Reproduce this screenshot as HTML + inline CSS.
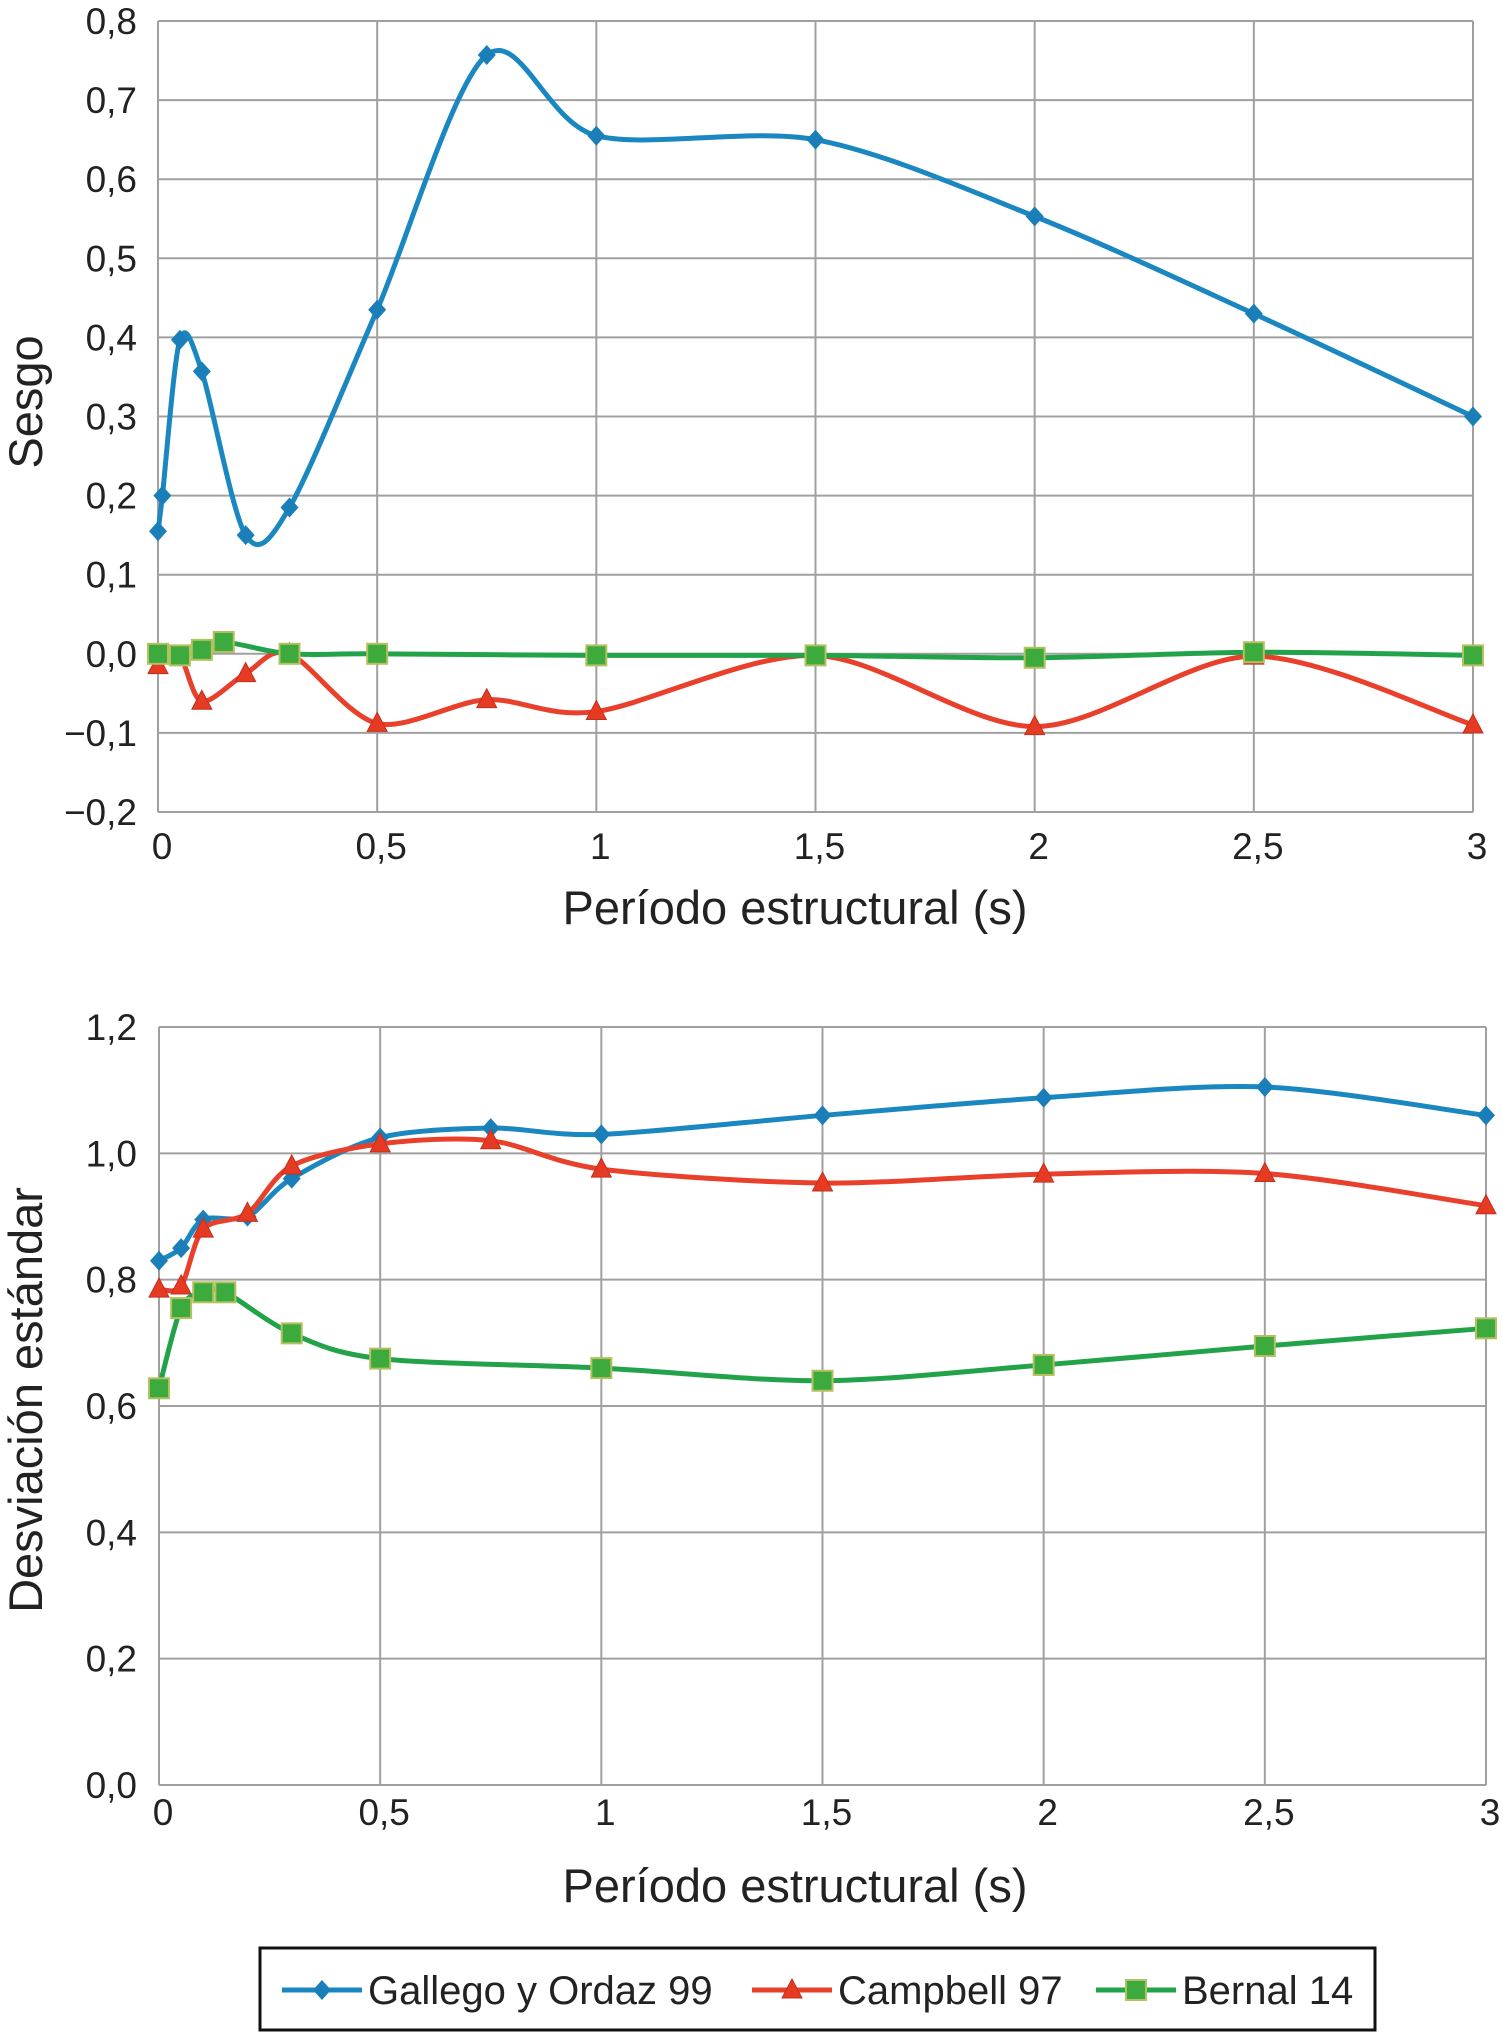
<!DOCTYPE html>
<html><head><meta charset="utf-8"><style>
body{margin:0;background:#fff;}
svg{display:block;font-family:"Liberation Sans",sans-serif;}
</style></head><body>
<svg id="c" width="1503" height="2035"></svg>
<script>
const xTicks=[0,0.5,1,1.5,2,2.5,3];
const xTickLabels=["0","0,5","1","1,5","2","2,5","3"];
const topYTicks=[0.8,0.7,0.6,0.5,0.4,0.3,0.2,0.1,0,-0.1,-0.2];
const topYLabels=["0,8","0,7","0,6","0,5","0,4","0,3","0,2","0,1","0,0","\u22120,1","\u22120,2"];
const botYTicks=[1.2,1.0,0.8,0.6,0.4,0.2,0];
const botYLabels=["1,2","1,0","0,8","0,6","0,4","0,2","0,0"];
const topGallegoX=[0,0.01,0.05,0.1,0.2,0.3,0.5,0.75,1,1.5,2,2.5,3];
const topGallegoY=[0.155,0.2,0.397,0.357,0.15,0.185,0.435,0.757,0.655,0.65,0.553,0.43,0.3];
const topCampbellX=[0,0.05,0.1,0.2,0.3,0.5,0.75,1,1.5,2,2.5,3];
const topCampbellY=[-0.015,-0.004,-0.06,-0.025,0,-0.088,-0.058,-0.073,-0.002,-0.092,-0.003,-0.09];
const topBernalX=[0,0.05,0.1,0.15,0.3,0.5,1,1.5,2,2.5,3];
const topBernalY=[0,-0.002,0.005,0.015,0,0,-0.002,-0.002,-0.005,0.002,-0.002];
const botGallegoX=[0,0.05,0.1,0.2,0.3,0.5,0.75,1,1.5,2,2.5,3];
const botGallegoY=[0.83,0.85,0.895,0.9,0.96,1.025,1.04,1.03,1.06,1.088,1.105,1.06];
const botCampbellX=[0,0.05,0.1,0.2,0.3,0.5,0.75,1,1.5,2,2.5,3];
const botCampbellY=[0.785,0.79,0.88,0.905,0.98,1.015,1.02,0.975,0.953,0.967,0.968,0.917];
const botBernalX=[0,0.05,0.1,0.15,0.3,0.5,1,1.5,2,2.5,3];
const botBernalY=[0.628,0.755,0.78,0.78,0.715,0.675,0.66,0.64,0.665,0.695,0.723];

const NS="http://www.w3.org/2000/svg";
const svg=document.getElementById('c');
function mk(t,a,p){const e=document.createElementNS(NS,t);for(const k in a)e.setAttribute(k,a[k]);(p||svg).appendChild(e);return e;}
const BLUE="#1a87c0",RED="#e8402a",GREEN="#22a34a";

function chart(cfg){
  const g=mk('g',{});
  
  
  const sx=v=>cfg.x0+(v-0)/3*(cfg.x1-cfg.x0);
  const sy=v=>cfg.yTop+(cfg.yMax-v)/(cfg.yMax-cfg.yMin)*(cfg.yBot-cfg.yTop);
  cfg.yt.forEach((v,i)=>{
    const l=mk('line',{x1:sx(0),x2:sx(3),y1:sy(v),y2:sy(v),stroke:"#a0a0a0","stroke-width":2},g);
    
    
    const t=mk('text',{x:137,y:sy(v)+13,"text-anchor":"end","font-size":37,fill:"#222"},g);
    t.textContent=cfg.yl[i];
    
    
  });
  xTicks.forEach((v,i)=>{
    const l=mk('line',{x1:sx(v),x2:sx(v),y1:cfg.yTop,y2:cfg.yBot,stroke:"#a0a0a0","stroke-width":2},g);
    
    
    const t=mk('text',{x:sx(v)+4,y:cfg.xlY,"text-anchor":"middle","font-size":37,fill:"#222"},g);
    t.textContent=xTickLabels[i];
    
    
  });
  const xt=mk('text',{x:795,y:cfg.xtY,"text-anchor":"middle","font-size":47,fill:"#222"},g);
  xt.textContent="Período estructural (s)";
  
  
  const yt=mk('text',{x:0,y:0,"text-anchor":"middle","font-size":47,fill:"#222",transform:`translate(42,${cfg.ytY}) rotate(-90)`},g);
  yt.textContent=cfg.ytitle;
  
  
  cfg.series.forEach(s=>{
    const pts=s.x.map((v,i)=>[sx(v),sy(s.y[i])]);
    let d=`M${pts[0][0]},${pts[0][1]}`;
    for(let i=0;i<pts.length-1;i++){
      const p0=pts[Math.max(i-1,0)],p1=pts[i],p2=pts[i+1],p3=pts[Math.min(i+2,pts.length-1)];
      const k=0.45;
      const c1=[p1[0]+(p2[0]-p0[0])*k/3,p1[1]+(p2[1]-p0[1])*k/3];
      const c2=[p2[0]-(p3[0]-p1[0])*k/3,p2[1]-(p3[1]-p1[1])*k/3];
      d+=` C${c1[0]},${c1[1]} ${c2[0]},${c2[1]} ${p2[0]},${p2[1]}`;
    }
    const p=mk('path',{d:d,fill:"none",stroke:s.c,"stroke-width":5},g);
    
    
    pts.forEach(q=>{
      const m=marker(s.m,q[0],q[1],g);
      
      
    });
  });
}
function marker(type,x,y,g){
  if(type==='d')return mk('path',{d:`M${x},${y-10}L${x+9},${y}L${x},${y+10}L${x-9},${y}Z`,fill:"#1a7fb8"},g);
  if(type==='t')return mk('path',{d:`M${x},${y-11}L${x+10},${y+8}L${x-10},${y+8}Z`,fill:"#e63a22",stroke:"#c03020","stroke-width":1},g);
  return mk('rect',{x:x-10,y:y-10,width:20,height:20,fill:"#3daa3e",stroke:"#b5c060","stroke-width":2},g);
}
chart({name:'sesgo-chart',x0:158,x1:1473,yTop:21,yBot:812,yMax:0.8,yMin:-0.2,yt:topYTicks,yl:topYLabels,xlY:859,xtY:924,ytitle:"Sesgo",ytY:402,
 series:[{x:topGallegoX,y:topGallegoY,c:BLUE,m:'d',nm:'gallego'},{x:topCampbellX,y:topCampbellY,c:RED,m:'t',nm:'campbell'},{x:topBernalX,y:topBernalY,c:GREEN,m:'s',nm:'bernal'}]});
chart({name:'desviacion-chart',x0:159,x1:1486,yTop:1027,yBot:1785,yMax:1.2,yMin:0,yt:botYTicks,yl:botYLabels,xlY:1825,xtY:1902,ytitle:"Desviación estándar",ytY:1400,
 series:[{x:botGallegoX,y:botGallegoY,c:BLUE,m:'d',nm:'gallego'},{x:botCampbellX,y:botCampbellY,c:RED,m:'t',nm:'campbell'},{x:botBernalX,y:botBernalY,c:GREEN,m:'s',nm:'bernal'}]});

const lg=mk('g',{});


mk('rect',{x:260,y:1948,width:1115,height:82,fill:"#fff",stroke:"#111","stroke-width":3},lg);
[[282,BLUE,'d',"Gallego y Ordaz 99",'legend-entry-gallego'],[752,RED,'t',"Campbell 97",'legend-entry-campbell'],[1096,GREEN,'s',"Bernal 14",'legend-entry-bernal']].forEach(e=>{
  const eg=mk('g',{},lg);
  
  
  mk('line',{x1:e[0],x2:e[0]+80,y1:1990,y2:1990,stroke:e[1],"stroke-width":5},eg);
  marker(e[2],e[0]+40,1990,eg);
  const t=mk('text',{x:e[0]+86,y:2004,"font-size":40,fill:"#222"},eg);
  t.textContent=e[3];
});
</script>
</body></html>
